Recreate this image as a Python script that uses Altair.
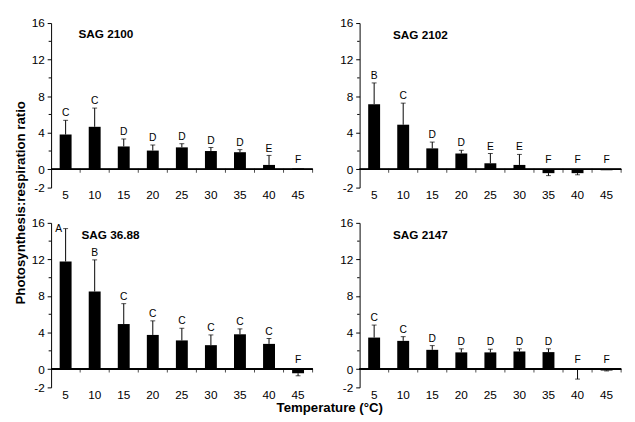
import altair as alt
import pandas as pd

temps = [5, 10, 15, 20, 25, 30, 35, 40, 45]
panels = ["SAG 2100", "SAG 2102", "SAG 36.88", "SAG 2147"]

mean_2100 = [3.80, 4.65, 2.50, 2.05, 2.40, 2.00, 1.87, 0.48, 0.08]
err_2100 = [1.56, 2.05, 0.82, 0.61, 0.40, 0.39, 0.28, 1.04, 0.0]
let_2100 = ["C", "C", "D", "D", "D", "D", "D", "E", "F"]

mean_2102 = [7.13, 4.88, 2.29, 1.73, 0.66, 0.48, -0.42, -0.42, -0.10]
err_2102 = [2.32, 2.36, 0.69, 0.35, 1.07, 1.15, 0.27, 0.18, 0.0]
let_2102 = ["B", "C", "D", "D", "E", "E", "F", "F", "F"]

mean_3688 = [11.77, 8.49, 4.93, 3.74, 3.14, 2.62, 3.81, 2.76, -0.45]
err_3688 = [3.60, 3.46, 2.23, 1.54, 1.33, 1.12, 0.59, 0.59, 0.28]
let_3688 = ["A", "B", "C", "C", "C", "C", "C", "C", "F"]

mean_2147 = [3.45, 3.09, 2.11, 1.83, 1.83, 1.93, 1.86, -0.05, -0.15]
err_2147 = [1.37, 0.46, 0.46, 0.39, 0.35, 0.29, 0.36, 1.04, 0.05]
let_2147 = ["C", "C", "D", "D", "D", "D", "D", "F", "F"]

y_major = [-2, 0, 4, 8, 12, 16]
y_minor = [2, 6, 10, 14]

FONT = "Liberation Sans"
W, H = 267, 168
STEP = W / 9

x_scale = alt.Scale(paddingInner=0.59, paddingOuter=0.295)
y_scale = alt.Scale(domain=[-2, 16], nice=False, zero=False)
Y_LABEL = "datum.value < 0 ? '-' + abs(datum.value) : '' + datum.value"


def make_panel(name, means, errs, letters, tx, ty, ytitle=False, xtitle=False):
    df = pd.DataFrame({"temp": temps, "mean": means, "err": errs, "letter": letters})

    if xtitle:
        xaxis = alt.Axis(title="Temperature (°C)", labelAngle=0, ticks=False, domain=False,
                         labelPadding=2, labelFontSize=12, labelOverlap=False,
                         titleFontSize=13.5, titleFontWeight="bold", titleX=284, titleY=28,
                         titleAlign="center", titleBaseline="bottom")
    else:
        xaxis = alt.Axis(title=None, labelAngle=0, ticks=False, domain=False,
                         labelPadding=2, labelFontSize=12, labelOverlap=False)
    if ytitle:
        yaxis = alt.Axis(title="Photosynthesis:respiration ratio", values=y_major,
                         tickSize=4, labelPadding=3, labelFontSize=12, grid=False,
                         labelOverlap=False, labelExpr=Y_LABEL,
                         titleFontSize=13.5, titleFontWeight="bold", titleX=-24,
                         titleY=183, titleAngle=270, titleAlign="center",
                         titleBaseline="bottom")
    else:
        yaxis = alt.Axis(title=None, values=y_major, tickSize=4, labelPadding=3,
                         labelFontSize=12, grid=False, labelOverlap=False,
                         labelExpr=Y_LABEL)

    X = alt.X("temp:O", scale=x_scale, sort=temps, axis=xaxis)
    Y = alt.Y("mean:Q", scale=y_scale, axis=yaxis)

    base = alt.Chart(df).transform_calculate(
        top="datum.mean >= 0 ? datum.mean + datum.err : datum.mean - datum.err"
    ).transform_calculate(
        lab="max(datum.top, 0.25)"
    ).transform_calculate(
        zz="0"
    )

    bars = base.mark_bar(color="black").encode(x=X, y=Y)
    whisk = base.transform_filter("datum.err > 0").mark_rule(color="black", strokeWidth=1).encode(
        x=X, y=Y, y2="top:Q"
    )
    caps = base.transform_filter("datum.err > 0").mark_tick(
        color="black", orient="horizontal", size=5, thickness=1
    ).encode(x=X, y=alt.Y("top:Q", scale=y_scale, axis=yaxis))
    labels = base.transform_filter("datum.lab <= 14").mark_text(
        baseline="alphabetic", dy=-4, fontSize=10.5, font=FONT, color="black"
    ).encode(x=X, y=alt.Y("lab:Q", scale=y_scale, axis=yaxis), text="letter:N")
    labels_hi = base.transform_filter("datum.lab > 14").mark_text(
        baseline="middle", dx=-7, fontSize=10.5, font=FONT, color="black"
    ).encode(x=X, y=alt.Y("lab:Q", scale=y_scale, axis=yaxis), text="letter:N")

    zero = base.mark_rule(color="black", strokeWidth=1).encode(
        y=alt.Y("zz:Q", scale=y_scale, axis=yaxis), x=alt.value(0), x2=alt.value(W)
    )
    xticks = base.mark_tick(color="black", orient="vertical", size=4, thickness=1,
                            xOffset=STEP / 2, yOffset=1.5).encode(
        x=X, y=alt.Y("zz:Q", scale=y_scale, axis=yaxis)
    )

    minor_df = pd.DataFrame({"v": y_minor})
    minor = alt.Chart(minor_df).mark_rule(color="black", strokeWidth=1).encode(
        y=alt.Y("v:Q", scale=y_scale, axis=yaxis), x=alt.value(-2.5), x2=alt.value(0)
    )

    title_df = pd.DataFrame({"t": [name]})
    title = alt.Chart(title_df).mark_text(
        align="left", baseline="middle", fontSize=12, fontWeight="bold",
        font=FONT, color="black", x=tx, y=ty
    ).encode(text="t:N")

    return alt.layer(bars, whisk, caps, zero, xticks, minor, labels, labels_hi, title).properties(
        width=W, height=H
    )


p1 = make_panel(panels[0], mean_2100, err_2100, let_2100, 28, 11, ytitle=True)
p2 = make_panel(panels[1], mean_2102, err_2102, let_2102, 34, 12.5)
p3 = make_panel(panels[2], mean_3688, err_3688, let_3688, 31, 12.5, xtitle=True)
p4 = make_panel(panels[3], mean_2147, err_2147, let_2147, 34, 12.5)

chart = alt.concat(p1, p2, p3, p4, columns=2,
                   spacing=alt.RowColnumber(row=36, column=48)).properties(
    bounds="flush", background="white"
).configure_view(stroke=None).configure_axis(
    labelFont=FONT, titleFont=FONT, labelColor="black", titleColor="black",
    domainColor="black", tickColor="black", grid=False
)

chart.save("out.html", embed_options={"renderer": "svg", "actions": False})
